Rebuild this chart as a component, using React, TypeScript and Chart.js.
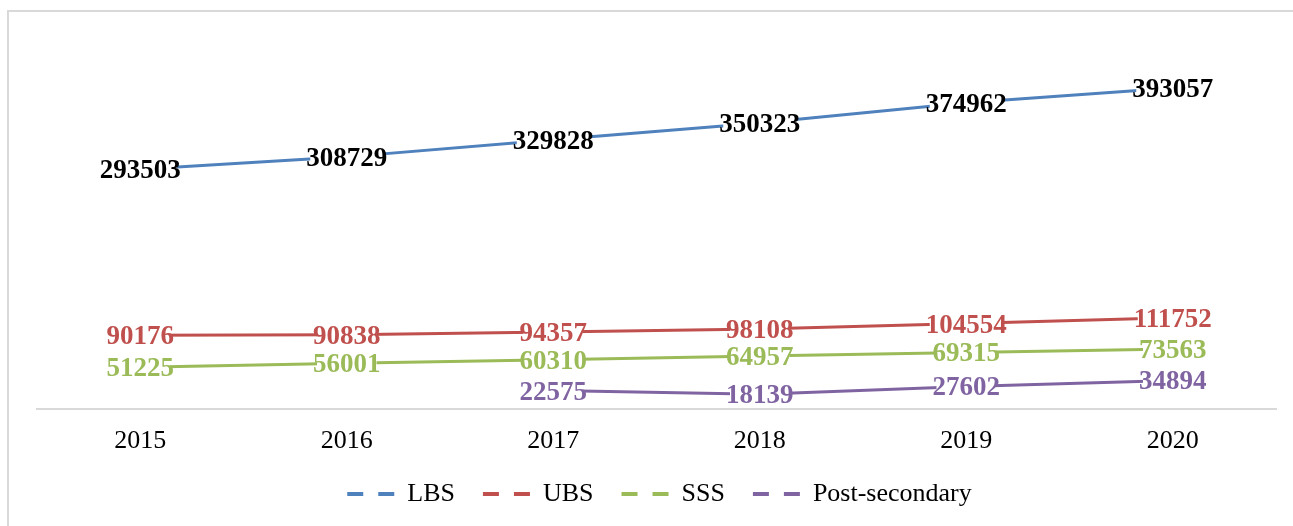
import React, { useEffect, useRef } from "react";
import { Chart, registerables } from "chart.js";

Chart.register(...registerables);

const categories = ["2015", "2016", "2017", "2018", "2019", "2020"];
const lbsValues = [293503, 308729, 329828, 350323, 374962, 393057];
const ubsValues = [90176, 90838, 94357, 98108, 104554, 111752];
const sssValues = [51225, 56001, 60310, 64957, 69315, 73563];
const postSecondaryValues = [null, null, 22575, 18139, 27602, 34894];
const seriesNames = ["LBS", "UBS", "SSS", "Post-secondary"];
const lineColors = ["#4F81BD", "#C0504D", "#9BBB59", "#8064A2"];
const labelColors = ["#000000", "#C0504D", "#9BBB59", "#8064A2"];

const FONT = "'Liberation Serif', 'Times New Roman', Times, serif";

const dataLabelPlugin = {
  id: "dataLabels",
  afterDatasetsDraw(chart: any) {
    const ctx = chart.ctx;
    ctx.save();
    ctx.font = `bold 27px ${FONT}`;
    ctx.textAlign = "center";
    ctx.textBaseline = "middle";
    chart.data.datasets.forEach((ds: any, di: number) => {
      const meta = chart.getDatasetMeta(di);
      meta.data.forEach((pt: any, i: number) => {
        const v = ds.data[i];
        if (v == null) return;
        const text = String(v);
        const w = ctx.measureText(text).width;
        const x = pt.x;
        const y = pt.y + 2;
        ctx.fillStyle = "#ffffff";
        ctx.fillRect(x - w / 2 + 4, y - 9, w - 8, 18);
        ctx.fillStyle = labelColors[di];
        ctx.fillText(text, x, y);
      });
    });
    ctx.restore();
  },
};

export default function App() {
  const ref = useRef<HTMLCanvasElement | null>(null);

  useEffect(() => {
    if (!ref.current) return;
    const seriesValues = [lbsValues, ubsValues, sssValues, postSecondaryValues];
    const chart = new Chart(ref.current, {
      type: "line",
      data: {
        labels: categories,
        datasets: seriesValues.map((vals, i) => ({
          label: seriesNames[i],
          data: vals as any,
          borderColor: lineColors[i],
          backgroundColor: lineColors[i],
          borderWidth: 3,
          pointRadius: 0,
          pointHoverRadius: 0,
          tension: 0,
          fill: false,
          spanGaps: false,
        })),
      },
      options: {
        responsive: false,
        animation: false,
        layout: { padding: { left: 14, right: 17, top: 29.5, bottom: 9 } },
        scales: {
          x: {
            offset: true,
            grid: { display: false, drawTicks: false },
            border: { display: true, color: "#d9d9d9", width: 2 },
            ticks: {
              color: "#000000",
              font: { family: FONT, size: 26 },
              padding: 16.4,
              maxRotation: 0,
              autoSkip: false,
            },
          },
          y: {
            display: true,
            min: 0,
            max: 450000,
            ticks: { display: false },
            grid: { display: false, drawTicks: false },
            border: { display: false },
            afterFit: (s: any) => {
              s.width = 14;
            },
          },
        },
        plugins: {
          tooltip: { enabled: false },
          legend: {
            position: "bottom",
            labels: {
              usePointStyle: true,
              pointStyleWidth: 67,
              padding: 8,
              color: "#000000",
              font: { family: FONT, size: 26 },
              generateLabels: (c: any) =>
                c.data.datasets.map((ds: any, i: number) => ({
                  text: ds.label,
                  fillStyle: lineColors[i],
                  strokeStyle: lineColors[i],
                  fontColor: "#000000",
                  lineWidth: 4,
                  lineDash: [0, 20, 16, 15, 16],
                  lineCap: "butt",
                  pointStyle: "line",
                  hidden: false,
                  datasetIndex: i,
                })),
            },
          },
        },
      },
      plugins: [dataLabelPlugin],
    });
    return () => chart.destroy();
  }, []);

  return (
    <div
      style={{
        position: "absolute",
        left: 7,
        top: 10,
        width: 1284,
        height: 514,
        borderLeft: "2px solid #d9d9d9",
        borderTop: "2px solid #d9d9d9",
        overflow: "hidden",
        background: "#ffffff",
      }}
    >
      <canvas ref={ref} width={1284} height={514} style={{ display: "block" }} />
    </div>
  );
}
